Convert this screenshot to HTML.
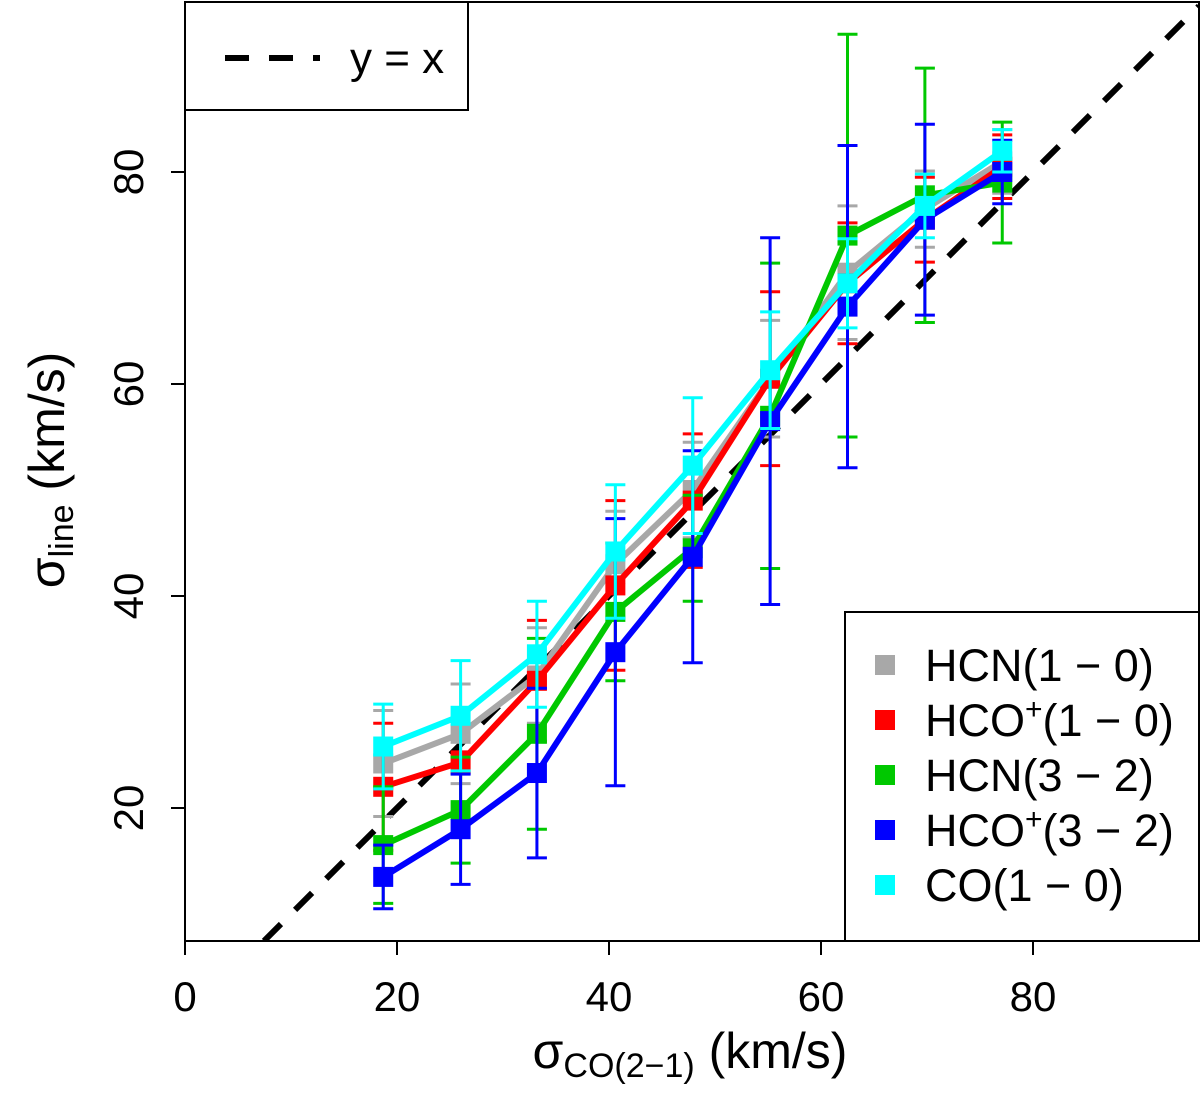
<!DOCTYPE html>
<html><head><meta charset="utf-8"><style>
body{margin:0;background:#fff}
svg{display:block;font-family:"Liberation Sans",sans-serif}
</style></head><body>
<svg id="chart" width="1200" height="1099"></svg>
<script>
const xs=[18.7,26,33.2,40.6,47.9,55.2,62.5,69.8,77.1];
const names=["HCN(1-0)","HCO+(1-0)","HCN(3-2)","HCO+(3-2)","CO(1-0)"];
const colors=["#a8a8a8","#ff0000","#00c800","#0000ff","#00ffff"];
const hcn10=[24.2,27,32.5,43,50,60.5,70.5,76.5,81];
const hcn10e=[5,4.7,4.5,5,4.5,5.5,6.3,3.6,3];
const hcop10=[22,24.3,32,41,49,60.5,69.5,75.5,80.5];
const hcop10e=[6,1,5.7,8,6.3,8.2,5.7,4,3];
const hcn32=[16.5,19.8,27,38.5,44.5,57,74,77.8,79];
const hcn32e=[5.5,5,9,6.5,5,14.4,19,12,5.7];
const hcop32=[13.5,18,23.3,34.7,43.7,56.5,67.3,75.5,80];
const hcop32e=[3,5.2,8,12.6,10,17.3,15.2,9,3];
const co10=[25.8,28.7,34.5,44.2,52.3,61.3,69.5,76.8,82];
const co10e=[4,5.2,5,6.3,6.4,5.5,4.2,3,2];
const series=[hcn10,hcop10,hcn32,hcop32,co10];
const errs=[hcn10e,hcop10e,hcn32e,hcop32e,co10e];
const xTicks=[0,20,40,60,80];
const yTicks=[20,40,60,80];

const X0=185,X1=1199,Y0=941,Y1=2;
const xmin=0,xmax=(X1-X0)/10.6,ymin=80-(Y0-172)/10.6,ymax=80+(172-Y1)/10.6;
const sx=v=>X0+(v-xmin)*10.6;
const sy=v=>172-(v-80)*10.6;
const svg=document.getElementById('chart');
const NS="http://www.w3.org/2000/svg";
function mk(t,a,p){const e=document.createElementNS(NS,t);for(const k in a)e.setAttribute(k,a[k]);(p||svg).appendChild(e);return e;}
const defs=mk('defs',{});const cp=mk('clipPath',{id:'cp'},defs);mk('rect',{x:X0,y:Y1,width:X1-X0,height:Y0-Y1},cp);

const idl=mk('line',{x1:sx(ymin),y1:sy(ymin),x2:sx(xmax),y2:sy(xmax),stroke:'#000','stroke-width':6,'stroke-dasharray':'24 20','clip-path':'url(#cp)'});



series.forEach((s,i)=>{
  const g=mk('g',{});
  
  
  s.forEach((v,j)=>{
    const e=errs[i][j],x=sx(xs[j]);
    mk('line',{x1:x,y1:sy(v-e),x2:x,y2:sy(v+e),stroke:colors[i],'stroke-width':3},g);
    mk('line',{x1:x-10,y1:sy(v-e),x2:x+10,y2:sy(v-e),stroke:colors[i],'stroke-width':3},g);
    mk('line',{x1:x-10,y1:sy(v+e),x2:x+10,y2:sy(v+e),stroke:colors[i],'stroke-width':3},g);
  });
  mk('polyline',{points:s.map((v,j)=>sx(xs[j])+','+sy(v)).join(' '),fill:'none',stroke:colors[i],'stroke-width':6},g);
  s.forEach((v,j)=>{mk('rect',{x:sx(xs[j])-10,y:sy(v)-10,width:20,height:20,fill:colors[i]},g);});
});

const box=mk('rect',{x:X0,y:Y1,width:X1-X0,height:Y0-Y1,fill:'none',stroke:'#000','stroke-width':2});

xTicks.forEach(t=>{
  mk('line',{x1:sx(t),y1:Y0,x2:sx(t),y2:Y0+14,stroke:'#000','stroke-width':2});
  const tx=mk('text',{x:sx(t),y:1011,'text-anchor':'middle','font-size':42});tx.textContent=t;
  
});
yTicks.forEach(t=>{
  mk('line',{x1:X0,y1:sy(t),x2:X0-14,y2:sy(t),stroke:'#000','stroke-width':2});
  const tx=mk('text',{x:0,y:0,'text-anchor':'middle','font-size':42,transform:`translate(143,${sy(t)}) rotate(-90)`});tx.textContent=t;
  
});
const xt=mk('text',{x:690,y:1068,'text-anchor':'middle','font-size':50});
xt.innerHTML='σ<tspan font-size="34" dy="9">CO(2−1)</tspan><tspan dy="-9"> (km/s)</tspan>';

const yt=mk('text',{x:0,y:0,'text-anchor':'middle','font-size':50,transform:'translate(64,470) rotate(-90)'});
yt.innerHTML='σ<tspan font-size="34" dy="9">line</tspan><tspan dy="-9"> (km/s)</tspan>';


const l1=mk('g',{});
mk('rect',{x:X0,y:Y1,width:283,height:108,fill:'#fff',stroke:'#000','stroke-width':2},l1);
mk('line',{x1:225,y1:58,x2:320,y2:58,stroke:'#000','stroke-width':6,'stroke-dasharray':'24 20'},l1);
const t1=mk('text',{x:350,y:73,'font-size':44},l1);t1.textContent='y = x';

const l2=mk('g',{});
mk('rect',{x:845,y:612,width:354,height:329,fill:'#fff',stroke:'#000','stroke-width':2},l2);
const labs=['HCN(1 − 0)','HCO<tspan font-size="30" dy="-17">+</tspan><tspan dy="17">(1 − 0)</tspan>','HCN(3 − 2)','HCO<tspan font-size="30" dy="-17">+</tspan><tspan dy="17">(3 − 2)</tspan>','CO(1 − 0)'];
labs.forEach((l,i)=>{
  const yy=665+i*55;
  const e=mk('g',{},l2);
  mk('rect',{x:875,y:yy-10,width:20,height:20,fill:colors[i]},e);
  const t=mk('text',{x:925,y:yy+16,'font-size':45,textLength:0},e);t.removeAttribute('textLength');t.innerHTML=l;
});
</script>
</body></html>
